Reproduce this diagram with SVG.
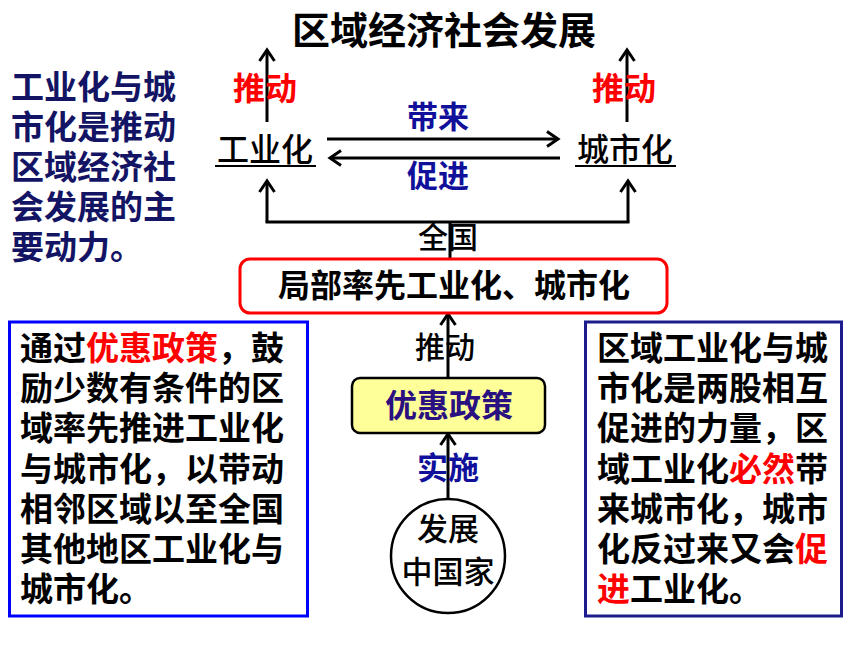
<svg xmlns="http://www.w3.org/2000/svg" width="860" height="645" viewBox="0 0 860 645">
<defs>
<marker id="ah" markerUnits="userSpaceOnUse" markerWidth="30" markerHeight="30" refX="0" refY="0" viewBox="-15 -15 30 30" orient="auto" overflow="visible">
<path d="M -11 -7.5 L 0 0 L -11 7.5" fill="none" stroke="#000" stroke-width="3" stroke-linejoin="miter"/>
</marker>
</defs>
<style>
text { font-family: "Noto Sans CJK SC", "Noto Sans CJK JP", sans-serif; }
.b { font-weight: bold; }
.n { font-weight: 500; }
.mid { text-anchor: middle; }
.conn { fill: none; stroke: #000; stroke-width: 3; }
.red { fill: #ff0000; }
.navy { fill: #141464; }
.blue { fill: #10109a; }
.box { font-size: 33px; font-weight: bold; fill: #000; }
</style>
<rect width="860" height="645" fill="#fff"/>

<g id="connectors">
<line class="conn" x1="267" y1="122" x2="267" y2="50" marker-end="url(#ah)"/>
<line class="conn" x1="627" y1="122" x2="627" y2="50" marker-end="url(#ah)"/>
<line class="conn" x1="327" y1="139" x2="558" y2="139" marker-end="url(#ah)"/>
<line class="conn" x1="560" y1="158" x2="330" y2="158" marker-end="url(#ah)"/>
<polyline class="conn" points="450,258 450,222"/>
<line class="conn" x1="267" y1="222" x2="267" y2="181" marker-end="url(#ah)"/>
<line class="conn" x1="628" y1="222" x2="628" y2="181" marker-end="url(#ah)"/>
<line class="conn" x1="265.5" y1="222" x2="629.5" y2="222"/>
<line class="conn" x1="448" y1="378" x2="448" y2="314" marker-end="url(#ah)"/>
<line class="conn" x1="448" y1="498" x2="448" y2="434" marker-end="url(#ah)"/>
</g>

<g id="title">
<text class="mid b" x="444" y="44" font-size="38" fill="#000">区域经济社会发展</text>
</g>

<g id="left-note" font-size="33">
<text x="11" y="99" class="navy b">工业化与城</text>
<text x="11" y="139" class="navy b">市化是推动</text>
<text x="11" y="179" class="navy b">区域经济社</text>
<text x="11" y="219" class="navy b">会发展的主</text>
<text x="11" y="259" class="navy b">要动力。</text>
</g>

<g id="label-push-left">
<text class="mid b red" x="265" y="100" font-size="32">推动</text>
</g>
<g id="label-push-right">
<text class="mid b red" x="624" y="100" font-size="32">推动</text>
</g>

<g id="node-industrialization">
<text class="mid n" x="265" y="161" font-size="32" fill="#000">工业化</text>
<line x1="215" y1="166" x2="316" y2="166" stroke="#000" stroke-width="2"/>
</g>
<g id="node-urbanization">
<text class="mid n" x="625" y="161" font-size="32" fill="#000">城市化</text>
<line x1="575" y1="166" x2="676" y2="166" stroke="#000" stroke-width="2"/>
</g>

<g id="label-bring">
<text class="mid b blue" x="438" y="128" font-size="31">带来</text>
</g>
<g id="label-promote">
<text class="mid b blue" x="438" y="187" font-size="31">促进</text>
</g>

<g id="label-national">
<text class="mid n" x="448" y="248" font-size="30" fill="#000">全国</text>
</g>

<g id="node-local">
<rect x="240" y="259" width="427" height="54" rx="10" ry="10" fill="#fff" stroke="#ff0000" stroke-width="3"/>
<text class="mid b" x="454" y="297" font-size="32" fill="#000">局部率先工业化、城市化</text>
</g>

<g id="label-push-mid">
<text class="mid n" x="445" y="358" font-size="30" fill="#000">推动</text>
</g>

<g id="node-policy">
<rect x="352" y="378" width="193" height="55" rx="8" ry="8" fill="#ffff99" stroke="#000" stroke-width="2.5"/>
<text class="mid b" x="449" y="417" font-size="32" fill="#2a1080">优惠政策</text>
</g>

<g id="label-implement">
<text class="mid b blue" x="448" y="479" font-size="31">实施</text>
</g>

<g id="node-country">
<circle cx="448" cy="556" r="57" fill="#fff" stroke="#000" stroke-width="2.5"/>
<text class="mid n" x="448" y="540" font-size="31" fill="#000">发展</text>
<text class="mid n" x="448" y="583" font-size="31" fill="#000">中国家</text>
</g>

<g id="left-box">
<rect x="9.5" y="322" width="298" height="294" fill="#fff" stroke="#0000ff" stroke-width="3"/>
<text class="box" x="20" y="360">通过<tspan fill="#ff0000">优惠政策</tspan>，鼓</text>
<text class="box" x="20" y="400">励少数有条件的区</text>
<text class="box" x="20" y="440">域率先推进工业化</text>
<text class="box" x="20" y="481">与城市化，以带动</text>
<text class="box" x="20" y="521">相邻区域以至全国</text>
<text class="box" x="20" y="561">其他地区工业化与</text>
<text class="box" x="20" y="601">城市化。</text>
</g>

<g id="right-box">
<rect x="585.5" y="322" width="256" height="294" fill="#fff" stroke="#1c1c8c" stroke-width="3"/>
<text class="box" x="597" y="360">区域工业化与城</text>
<text class="box" x="597" y="400">市化是两股相互</text>
<text class="box" x="597" y="440">促进的力量，区</text>
<text class="box" x="597" y="481">域工业化<tspan fill="#ff0000">必然</tspan>带</text>
<text class="box" x="597" y="521">来城市化，城市</text>
<text class="box" x="597" y="561">化反过来又会<tspan fill="#ff0000">促</tspan></text>
<text class="box" x="597" y="601"><tspan fill="#ff0000">进</tspan>工业化。</text>
</g>
</svg>
